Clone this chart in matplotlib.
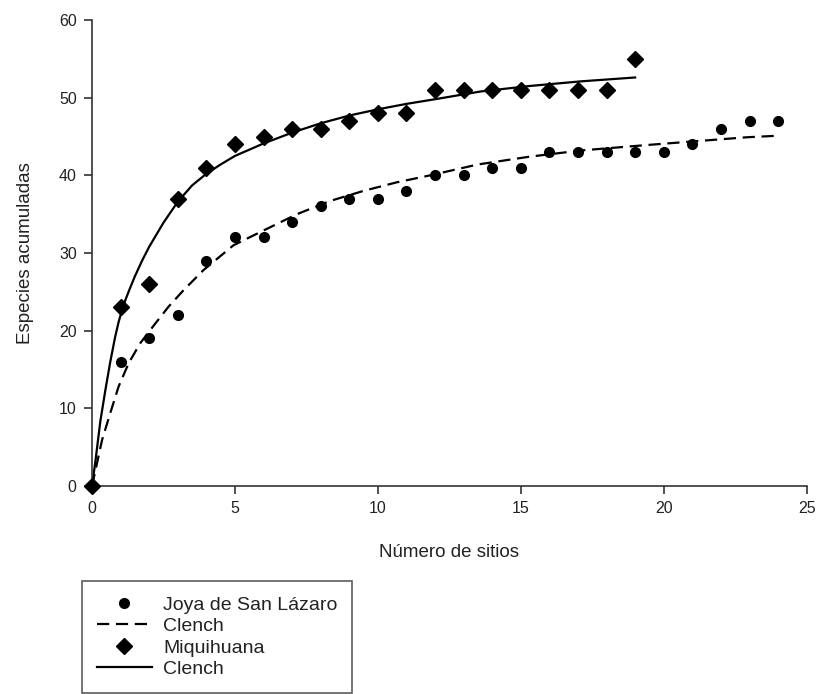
import numpy as np
import matplotlib
matplotlib.use("Agg")
import matplotlib.pyplot as plt

plt.rcParams['font.family'] = ['Liberation Sans', 'DejaVu Sans']

# observed accumulated species
sitios_joya = list(range(0, 25))
especies_joya = [0, 16, 19, 22, 29, 32, 32, 34, 36, 37, 37, 38, 40, 40, 41, 41,
                 43, 43, 43, 43, 43, 44, 46, 47, 47]

sitios_miqui = list(range(0, 20))
especies_miqui = [0, 23, 26, 37, 41, 44, 45, 46, 46, 47, 48, 48, 51, 51, 51, 51,
                  51, 51, 51, 55]

# Clench curves
clench_joya_x = [0, 0.12, 0.35, 0.64, 0.93, 1.28, 1.69, 2.21, 2.68, 3.2, 3.9,
                 4.95, 6.0, 7.17, 8.33, 9.5, 10.66, 11.83, 13.5, 15.3, 17.1,
                 19.4, 21.15, 22.9, 24.0]
clench_joya_y = [0, 2.0, 5.9, 9.4, 12.8, 15.8, 18.4, 20.9, 23.1, 25.2, 27.8,
                 31.0, 32.9, 35.0, 36.7, 38.0, 39.1, 40.0, 41.4, 42.4, 43.2,
                 43.9, 44.4, 44.9, 45.1]

clench_miqui_x = [0, 0.12, 0.29, 0.47, 0.64, 0.81, 0.93, 1.1, 1.3, 1.5, 1.75,
                  2.0, 2.5, 3.0, 3.5, 4.0, 4.5, 5.0, 6.0, 7.0, 8.0, 9.0, 10.0,
                  11.0, 12.0, 13.6, 15.3, 17.1, 19.0]
clench_miqui_y = [0, 3.2, 8.3, 12.4, 16.0, 19.2, 21.1, 23.3, 25.2, 27.0, 29.0,
                  30.8, 33.9, 36.6, 38.7, 40.2, 41.4, 42.5, 44.1, 45.5, 46.7,
                  47.7, 48.5, 49.2, 49.8, 50.8, 51.5, 52.1, 52.6]

fig = plt.figure(figsize=(8.2, 6.94), dpi=100)
ax = fig.add_axes([92 / 820, 1 - 486 / 694, (806.7 - 92) / 820, (486 - 20) / 694])

p1, = ax.plot(sitios_joya, especies_joya, linestyle='none', marker='o',
              color='black', markersize=7, clip_on=False, zorder=3)
l1, = ax.plot(clench_joya_x, clench_joya_y, linestyle=(0, (5.5, 3)),
              color='black', linewidth=1.6)
p2, = ax.plot(sitios_miqui, especies_miqui, linestyle='none', marker='D',
              color='black', markersize=8.5, clip_on=False, zorder=3)
l2, = ax.plot(clench_miqui_x, clench_miqui_y, linestyle='-', color='black',
              linewidth=1.6)

ax.set_xlim(0, 25)
ax.set_ylim(0, 60)
ax.set_xticks([0, 5, 10, 15, 20, 25])
ax.set_yticks([0, 10, 20, 30, 40, 50, 60])
for s in ['top', 'right']:
    ax.spines[s].set_visible(False)
for s in ['left', 'bottom']:
    ax.spines[s].set_color('#333333')
    ax.spines[s].set_linewidth(1.2)
ax.tick_params(direction='out', length=6, width=1.2, color='#333333',
               labelsize=11.5, labelcolor='#222222', pad=5)
ax.set_xlabel('Número de sitios', fontsize=13.5, color='#222222', labelpad=20)
ax.set_ylabel('Especies acumuladas', fontsize=13.5, color='#222222', labelpad=18)

leg = fig.legend([p1, l1, p2, l2],
                 ['Joya de San Lázaro', 'Clench', 'Miquihuana', 'Clench'],
                 loc='upper left', bbox_to_anchor=(82 / 820, 1 - 581 / 694),
                 fontsize=14, frameon=True, fancybox=False, edgecolor='#333333',
                 handlelength=2.83, handletextpad=0.57, borderpad=0.77,
                 labelspacing=0.2, borderaxespad=0)
leg.get_frame().set_linewidth(1.2)
for t in leg.get_texts():
    t.set_color('#222222')

fig.savefig('out.png', dpi=100, facecolor='white')
